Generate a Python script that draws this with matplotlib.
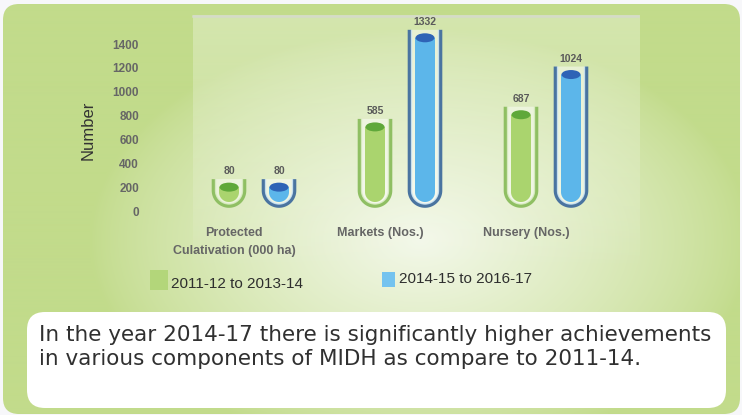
import numpy as np
import matplotlib
matplotlib.use("Agg")
import matplotlib.pyplot as plt
from matplotlib.patches import FancyBboxPatch, PathPatch, Ellipse, Rectangle
from matplotlib.path import Path
from matplotlib.colors import to_rgb

# ---------------- data ----------------
categories = ["Protected\nCulativation (000 ha)", "Markets (Nos.)", "Nursery (Nos.)"]
series_names = ["2011-12 to 2013-14", "2014-15 to 2016-17"]
values_2011_14 = [80, 585, 687]
values_2014_17 = [80, 1332, 1024]
yticks = [0, 200, 400, 600, 800, 1000, 1200, 1400]
ylabel = "Number"
note_lines = ["In the year 2014-17 there is significantly higher achievements",
              "in various components of MIDH as compare to 2011-14."]

plt.rcParams['font.family'] = ['Liberation Sans', 'DejaVu Sans']

W, H = 742, 415
fig = plt.figure(figsize=(W / 100, H / 100), dpi=100)
fig.patch.set_facecolor("#f7f7fa")

# ---------------- background (pixel coords) ----------------
bg = fig.add_axes([0, 0, 1, 1])
bg.axis("off")
yy, xx = np.mgrid[0:H, 0:W]
r = np.sqrt(((xx - 420) / 330.0) ** 2 + ((yy - 240) / 210.0) ** 2)
wgt = np.clip(1 - r, 0, 1) ** 0.8
edge = np.array(to_rgb("#c2db8b"))
center = np.array(to_rgb("#f3f8e9"))
img = edge + (center - edge) * wgt[..., None]
panel = FancyBboxPatch((3, 4), W - 5, H - 5, boxstyle="round,pad=0,rounding_size=16",
                       fc="none", ec="none")
bg.add_patch(panel)
im = bg.imshow(img, extent=(0, W, H, 0), zorder=0, aspect="auto", interpolation="bilinear")
im.set_clip_path(panel)

# lighter chart-image region, fading out towards the bottom
ry_, rx_ = np.mgrid[0:248, 0:447]
alpha = np.clip(1 - ry_ / 248.0, 0, 1) ** 0.6 * 0.3
ov = np.ones((248, 447, 4))
ov[..., 3] = alpha
bg.imshow(ov, extent=(193, 640, 264, 16), zorder=1, aspect="auto")
bg.plot([193, 638], [16.5, 16.5], color="#d5dbc8", lw=1.8, zorder=2)
bg.set_xlim(0, W)
bg.set_ylim(H, 0)

# white note box
bg.add_patch(FancyBboxPatch((27, 312), 699, 96, boxstyle="round,pad=0,rounding_size=18",
                            fc="white", ec="none", zorder=3))
t1 = bg.text(39, 341, note_lines[0], fontsize=14, family="DejaVu Sans", color="#303030",
             va="baseline", ha="left", zorder=4)
t2 = bg.text(39, 365, note_lines[1], fontsize=14, family="DejaVu Sans", color="#303030",
             va="baseline", ha="left", zorder=4)
fig.canvas.draw()
wpx = t1.get_window_extent().width
fs = 14 * 673.0 / wpx
t1.set_fontsize(fs)
t2.set_fontsize(fs)

# y-label
bg.text(88, 130, ylabel, rotation=90, fontsize=12, color="#333333", ha="center", va="center", zorder=4)

# legend
bg.add_patch(Rectangle((150, 270), 18, 20, fc="#b3d67a", ec="none", zorder=4))
bg.add_patch(Rectangle((382, 272), 13, 15, fc="#74c3ef", ec="none", zorder=4))
bg.text(171, 284, series_names[0], fontsize=11, color="#2e2e2e", va="center", ha="left", zorder=4)
bg.text(399, 279, series_names[1], fontsize=11, color="#2e2e2e", va="center", ha="left", zorder=4)

# ---------------- chart axes ----------------
S = 167.0 / 1400.0      # px per data unit (y)
XU = 146.0              # px per category unit (x)
ZERO_PX = 211.0
X0_PX = 254.0
ylo, yhi = -40, 1650
bottom_px = ZERO_PX - ylo * S
top_px = ZERO_PX - yhi * S
left_px, right_px = 150.0, 640.0
ax = fig.add_axes([left_px / W, 1 - bottom_px / H, (right_px - left_px) / W, (bottom_px - top_px) / H])
ax.set_xlim((left_px - X0_PX) / XU, (right_px - X0_PX) / XU)
ax.set_ylim(ylo, yhi)
ax.patch.set_alpha(0)
for sp in ax.spines.values():
    sp.set_visible(False)

ax.set_yticks(yticks)
ax.set_yticklabels([str(v) for v in yticks], fontsize=8.5, fontweight="bold", color="#666666")
ax.tick_params(axis="y", length=0, pad=8)
xpos = np.arange(len(categories))
ax.set_xticks(xpos - 20 / XU)
ax.set_xticklabels(categories, fontsize=9, fontweight="bold", color="#666666")
for lab in ax.get_xticklabels():
    lab.set_linespacing(1.7)
ax.tick_params(axis="x", length=0, pad=8)

LIFT = 120           # liquid column sits on top of the bulb
GLASS_BOTTOM = (ZERO_PX - 206) / S
LIQ_BOTTOM = (ZERO_PX - 202) / S
OFF = 25 / XU


def u_verts(xc, half_px, bottom, top):
    rx = half_px / XU
    ry = half_px / S
    th = np.linspace(np.pi, 2 * np.pi, 50)
    ax_ = xc + rx * np.cos(th)
    ay_ = bottom + ry + ry * np.sin(th)
    return [(xc - rx, top)] + list(zip(ax_, ay_)) + [(xc + rx, top)]


def draw_tube(xc, val, liq, cap, outline, inner):
    ltop = val + LIFT
    gtop = ltop + 8 / S
    gv = u_verts(xc, 15.5, GLASS_BOTTOM, gtop)
    ax.add_patch(PathPatch(Path(gv + [gv[0]], closed=True), fc="white", ec="none", alpha=0.45, zorder=2))
    ax.add_patch(PathPatch(Path(gv), fc="none", ec=outline, lw=2.6, zorder=4, capstyle="butt"))
    iv = u_verts(xc, 13.5, GLASS_BOTTOM + 2 / S, gtop)
    ax.add_patch(PathPatch(Path(iv), fc="none", ec=inner, lw=1.0, zorder=4, capstyle="butt", alpha=0.8))
    lv = u_verts(xc, 10, LIQ_BOTTOM, ltop)
    ax.add_patch(PathPatch(Path(lv + [lv[0]], closed=True), fc=liq, ec="none", zorder=3))
    ax.add_patch(Ellipse((xc, ltop), 19 / XU, 9 / S, fc=cap, ec="none", zorder=5))
    ax.text(xc, gtop + 8 / S, str(val), ha="center", va="center", fontsize=7.5,
            fontweight="bold", color="#5a5a5a", zorder=6)


for i in range(len(categories)):
    draw_tube(xpos[i] - OFF, values_2011_14[i], "#aad46e", "#5fa83a", "#8fbf63", "#d7ebc0")
    draw_tube(xpos[i] + OFF, values_2014_17[i], "#5cb6ea", "#2e63b6", "#4a74a0", "#c9e3f5")

fig.savefig("out.png", dpi=100, facecolor=fig.get_facecolor())
